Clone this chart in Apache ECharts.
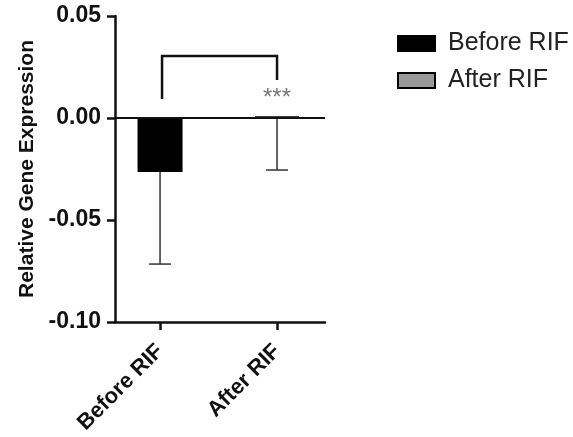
<!DOCTYPE html>
<html>
<head>
<meta charset="utf-8">
<script src="https://cdn.jsdelivr.net/npm/echarts@6/dist/echarts.min.js"></script>
<style>
html,body{margin:0;padding:0;background:#fff;}
#chart{width:573px;height:437px;}
</style>
</head>
<body>
<div id="chart"></div>
<script>
var categories = ['Before RIF', 'After RIF'];
var means = [-0.0265, 0.0005];
var errLow = [-0.0716, -0.0255];
var yTicks = [-0.10, -0.05, 0.00, 0.05];
var bracket = [0, 1, 0.0304, 0.0093, 0.0186]; // left x, right x, top y, left end y, right end y
var starsPos = [1, 0.0095];
var starsText = '***';

var FONT = 'Liberation Sans, Arial, sans-serif';
var chart = echarts.init(document.getElementById('chart'));

var option = {
  animation: false,
  backgroundColor: '#ffffff',
  grid: {left: 115, right: 248, top: 16, bottom: 115, containLabel: false},
  legend: {
    orient: 'vertical',
    left: 392,
    top: 26,
    itemWidth: 37,
    itemHeight: 15,
    itemGap: 12,
    icon: 'rect',
    data: categories,
    textStyle: {fontFamily: FONT, fontSize: 25, color: '#222', padding: [0, 0, 0, 8]}
  },
  xAxis: {
    type: 'value',
    min: -0.385,
    max: 1.41,
    splitLine: {show: false},
    axisLine: {show: true, onZero: false, lineStyle: {color: '#111', width: 2.5}},
    axisTick: {show: true, length: 8, lineStyle: {color: '#111', width: 2.5}, customValues: [0, 1]},
    axisLabel: {
      show: true,
      customValues: [0, 1],
      rotate: 45,
      margin: 26,
      fontFamily: FONT,
      fontWeight: 'bold',
      fontSize: 22,
      color: '#111',
      formatter: function (v) { return categories[Math.round(v)]; }
    }
  },
  yAxis: {
    type: 'value',
    min: yTicks[0],
    max: yTicks[yTicks.length - 1],
    interval: 0.05,
    name: 'Relative Gene Expression',
    nameLocation: 'middle',
    nameGap: 77,
    nameTextStyle: {fontFamily: FONT, fontWeight: 'bold', fontSize: 21, color: '#111'},
    splitLine: {show: false},
    axisLine: {show: true, onZero: false, lineStyle: {color: '#111', width: 2.5}},
    axisTick: {show: true, length: 8, lineStyle: {color: '#111', width: 2.5}},
    axisLabel: {
      margin: 14,
      fontFamily: FONT,
      fontWeight: 'bold',
      fontSize: 23,
      color: '#111',
      formatter: function (v) { return v.toFixed(2); }
    }
  },
  series: [
    {
      name: categories[0],
      type: 'bar',
      stack: 'g',
      barWidth: 45,
      data: [[0, means[0]]],
      itemStyle: {color: '#000', borderColor: '#000', borderWidth: 2},
      markLine: {
        silent: true,
        symbol: 'none',
        label: {show: false},
        lineStyle: {color: '#111', width: 2, type: 'solid'},
        data: [{yAxis: 0}]
      },
      z: 2
    },
    {
      name: categories[1],
      type: 'bar',
      stack: 'g',
      barWidth: 45,
      data: [[1, means[1]]],
      itemStyle: {color: '#999', borderColor: '#000', borderWidth: 2.5},
      z: 2
    },
    {
      type: 'custom',
      name: 'err',
      silent: true,
      data: [[0, means[0], errLow[0]], [1, means[1], errLow[1]]],
      encode: {x: 0, y: [1, 2]},
      renderItem: function (params, api) {
        var x = api.value(0);
        var p0 = api.coord([x, api.value(1)]);
        var p1 = api.coord([x, api.value(2)]);
        var st = {stroke: '#333', lineWidth: 1.5};
        return {
          type: 'group',
          children: [
            {type: 'line', shape: {x1: p0[0], y1: p0[1], x2: p1[0], y2: p1[1]}, style: st},
            {type: 'line', shape: {x1: p1[0] - 11, y1: p1[1], x2: p1[0] + 11, y2: p1[1]}, style: st}
          ]
        };
      },
      z: 3
    },
    {
      type: 'custom',
      name: 'bracket',
      silent: true,
      data: [bracket],
      encode: {x: [0, 1], y: [2, 3, 4]},
      renderItem: function (params, api) {
        var a = api.coord([api.value(0), api.value(3)]);
        var b = api.coord([api.value(0), api.value(2)]);
        var c = api.coord([api.value(1), api.value(2)]);
        var d = api.coord([api.value(1), api.value(4)]);
        return {
          type: 'polyline',
          shape: {points: [[a[0] + 2, a[1]], [b[0] + 2, b[1]], [c[0], c[1]], [d[0], d[1]]]},
          style: {stroke: '#111', lineWidth: 2.5, fill: null}
        };
      },
      z: 3
    },
    {
      type: 'scatter',
      name: 'stars',
      silent: true,
      symbolSize: 0,
      data: [starsPos],
      label: {
        show: true,
        position: 'inside',
        formatter: starsText,
        fontFamily: FONT,
        fontSize: 24,
        color: '#555'
      },
      z: 4
    }
  ]
};
chart.setOption(option);
</script>
</body>
</html>
